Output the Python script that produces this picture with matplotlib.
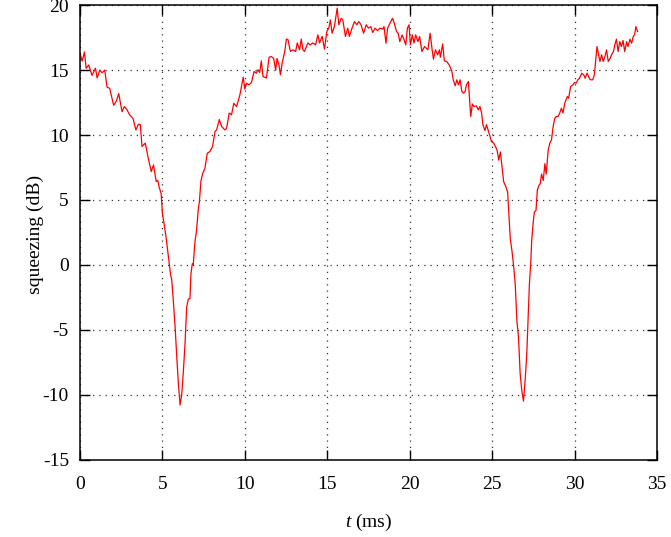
import matplotlib
matplotlib.use("Agg")
import matplotlib.pyplot as plt
import numpy as np

# time (ms) and squeezing (dB)
t_ms = [0.0, 0.13, 0.27, 0.37, 0.53, 0.73, 0.94, 1.04, 1.2, 1.34, 1.5, 1.64, 1.8,
        2.04, 2.2, 2.35, 2.55, 2.69, 2.85, 3.01, 3.21, 3.39, 3.55, 3.66, 3.76,
        3.96, 4.12, 4.32, 4.46, 4.62, 4.72, 4.8, 4.92, 5.0, 5.1, 5.22, 5.32,
        5.42, 5.5, 5.56, 5.66, 5.77, 5.87, 5.97, 6.07, 6.17, 6.27, 6.37, 6.47,
        6.57, 6.67, 6.73, 6.81, 6.87, 6.97, 7.07, 7.17, 7.24, 7.34, 7.45, 7.58,
        7.72, 7.88, 8.04, 8.19, 8.29, 8.45, 8.59, 8.79, 8.89, 9.05, 9.19, 9.33,
        9.5, 9.7, 9.9, 10.0, 10.1, 10.24, 10.4, 10.56, 10.7, 10.8, 10.9, 11.0,
        11.1, 11.31, 11.47, 11.61, 11.75, 11.87, 11.95, 12.07, 12.16, 12.26,
        12.42, 12.52, 12.62, 12.76, 12.92, 13.08, 13.18, 13.32, 13.42, 13.52,
        13.62, 13.82, 13.96, 14.13, 14.29, 14.43, 14.53, 14.69, 14.83, 14.97,
        15.09, 15.19, 15.29, 15.43, 15.6, 15.7, 15.84, 15.94, 16.1, 16.24,
        16.34, 16.5, 16.65, 16.79, 16.91, 17.05, 17.2, 17.36, 17.5, 17.64,
        17.76, 17.9, 18.04, 18.2, 18.36, 18.44, 18.56, 18.66, 18.8, 18.96,
        19.06, 19.2, 19.3, 19.4, 19.54, 19.66, 19.76, 19.86, 19.96, 20.04,
        20.16, 20.26, 20.36, 20.5, 20.6, 20.74, 20.9, 21.1, 21.24, 21.36,
        21.44, 21.56, 21.7, 21.8, 21.86, 22.0, 22.1, 22.24, 22.4, 22.56,
        22.64, 22.76, 22.86, 22.96, 23.06, 23.16, 23.26, 23.36, 23.44, 23.56,
        23.7, 23.8, 23.9, 24.04, 24.16, 24.26, 24.36, 24.44, 24.56, 24.66,
        24.8, 24.96, 25.1, 25.2, 25.3, 25.4, 25.5, 25.6, 25.7, 25.84, 25.94,
        26.0, 26.1, 26.2, 26.3, 26.4, 26.5, 26.6, 26.7, 26.8, 26.9, 27.0,
        27.1, 27.2, 27.26, 27.34, 27.4, 27.5, 27.56, 27.66, 27.74, 27.84,
        27.92, 28.0, 28.1, 28.2, 28.28, 28.4, 28.5, 28.6, 28.7, 28.8, 28.9,
        29.0, 29.1, 29.2, 29.3, 29.4, 29.56, 29.64, 29.76, 29.9, 30.0, 30.1,
        30.2, 30.3, 30.44, 30.56, 30.64, 30.76, 30.86, 30.96, 31.1, 31.2,
        31.36, 31.44, 31.54, 31.64, 31.74, 31.84, 31.94, 32.04, 32.16, 32.24,
        32.36, 32.44, 32.54, 32.64, 32.74, 32.84, 32.94, 33.04, 33.16, 33.24,
        33.36, 33.46, 33.56, 33.64, 33.72, 33.82]
sq_db = [16.3, 15.7, 16.4, 15.15, 15.4, 14.6, 15.15, 14.4, 15.0, 14.8, 15.0, 13.7, 13.6,
         12.3, 12.6, 13.2, 11.8, 12.2, 11.95, 11.56, 11.3, 10.4, 10.84, 10.8, 9.12,
         9.38, 8.35, 7.19, 7.7, 6.42, 6.5, 6.0, 5.5, 3.94, 3.17, 2.14, 1.1,
         0.08, -0.82, -1.08, -2.76, -4.8, -7.1, -9.2, -10.8, -10.0, -8.2, -6.1, -3.27,
         -2.63, -2.6, -0.7, 0.08, 0.0, 1.75, 2.65, 4.2, 4.85, 6.5, 7.06, 7.45,
         8.6, 8.73, 9.12, 10.28, 10.4, 11.2, 10.66, 10.4, 10.5, 11.7, 11.56, 12.45,
         12.2, 13.1, 14.46, 13.54, 14.0, 13.87, 14.05, 14.9, 14.77, 15.03, 14.82, 15.72,
         14.5, 14.4, 16.0, 16.05, 15.9, 15.0, 15.9, 15.4, 14.64, 15.54,
         16.44, 17.4, 17.34, 16.44, 16.57, 16.44, 17.1, 16.57, 17.4, 16.57,
         16.44, 17.1, 16.95, 17.1, 16.95, 17.72, 17.1, 17.6, 16.62, 17.98,
         18.24, 18.88, 17.85, 18.36, 19.78, 18.5, 19.0, 18.88, 17.6, 18.24,
         17.6, 18.24, 18.75, 18.5, 18.75, 18.5, 17.85, 18.5, 18.24, 18.36,
         17.9, 18.24, 18.05, 18.24, 18.16, 18.36, 17.08, 18.24, 18.62, 19.0,
         18.62, 17.98, 17.85, 17.2, 17.72, 17.34, 16.95, 18.24, 18.5, 16.95,
         17.72, 17.08, 17.72, 17.2, 17.6, 16.44, 16.82, 16.57, 17.85, 16.57,
         15.85, 16.57, 16.18, 16.57, 16.0, 17.03, 15.72, 15.67, 15.4, 14.9,
         14.26, 13.8, 14.26, 13.87, 14.26, 13.36, 13.23, 13.36, 13.87, 14.13,
         11.43, 12.4, 12.2, 12.25, 11.94, 12.2, 11.7, 10.8, 10.35, 10.8,
         10.2, 9.5, 9.38, 9.12, 8.84, 8.07, 8.7, 7.55, 6.4, 6.0, 5.6,
         4.2, 2.0, 1.1, -0.05, -1.47, -4.3, -5.6, -8.4, -9.7, -10.5, -8.9,
         -6.9, -3.5, -1.47, 0.08, 1.9, 3.4, 4.07, 4.2, 5.75, 6.13,
         6.26, 7.0, 6.5, 7.8, 7.0, 8.84, 9.38, 9.63, 10.66, 11.3, 11.43,
         11.43, 11.7, 12.07, 11.7, 12.45, 12.97, 12.84, 13.74, 13.87, 14.05, 14.0,
         14.26, 14.38, 14.77, 14.64, 14.38, 14.77, 14.46, 14.26, 14.26, 14.64,
         16.82, 16.3, 15.67, 16.18, 15.67, 16.05, 16.57, 15.67, 15.92, 16.18,
         16.44, 16.95, 17.39, 16.44, 17.2, 16.82, 17.29, 16.44, 17.2, 16.82,
         17.39, 17.08, 17.6, 17.72, 18.36, 17.98]

x_ticks = [0, 5, 10, 15, 20, 25, 30, 35]
y_ticks = [-15, -10, -5, 0, 5, 10, 15, 20]

plt.rcParams['font.family'] = ['Liberation Serif', 'DejaVu Serif']
plt.rcParams['mathtext.fontset'] = 'custom'
plt.rcParams['mathtext.it'] = 'Liberation Serif:italic'
plt.rcParams['mathtext.rm'] = 'Liberation Serif'
plt.rcParams['axes.unicode_minus'] = False

fig = plt.figure(figsize=(6.71, 5.37), dpi=100)
ax = fig.add_axes([80/671, 1 - 459.5/537, 577/671, 454.2/537])

ax.plot(t_ms, sq_db, color='#ff0000', lw=0.9)

ax.set_xlim(0, 35)
ax.set_ylim(-15, 20)
ax.set_xticks(x_ticks)
ax.set_yticks(y_ticks)
ax.tick_params(direction='in', length=7.5, width=1, top=True, right=True,
               labelsize=14, colors='black')
ax.tick_params(axis='x', pad=12)
ax.tick_params(axis='y', pad=8)
ax.grid(True, linestyle=(0, (1, 4)), color='#333333', lw=0.9)
for s in ax.spines.values():
    s.set_linewidth(1.1)

fig.text(368.5/671, 1 - 522/537, '$t$ (ms)', fontsize=14, ha='center', va='center')
fig.text(35/671, 1 - 234/537, 'squeezing (dB)', fontsize=14, rotation=90,
         ha='center', va='center')

fig.savefig('out.png', dpi=100)
